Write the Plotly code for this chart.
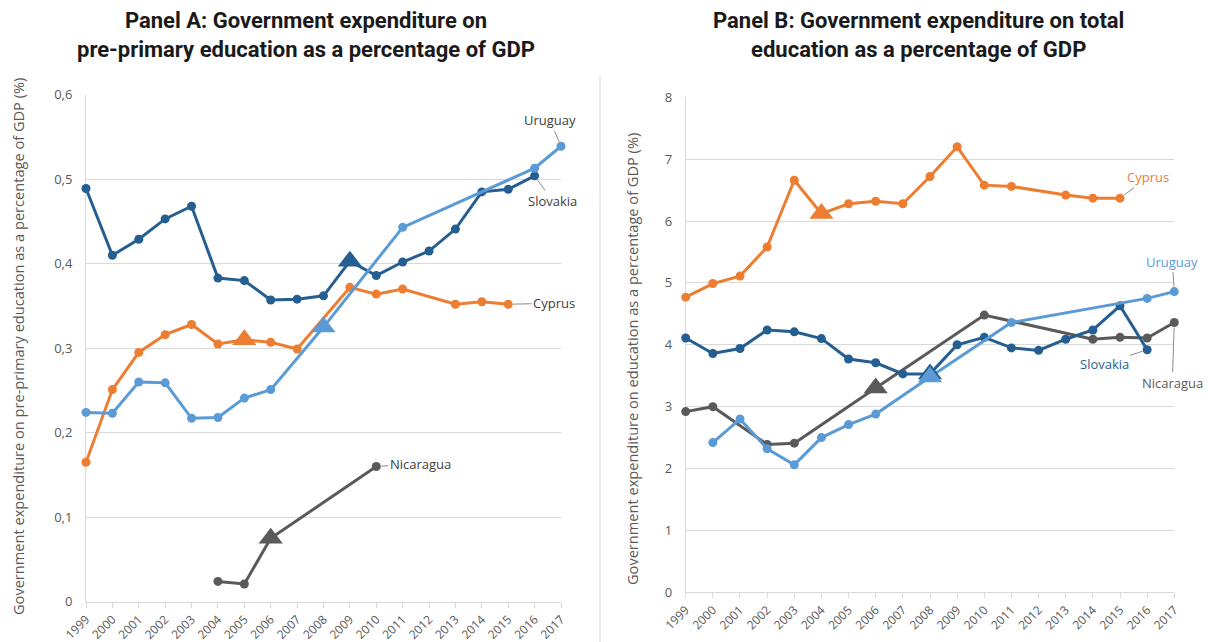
import plotly.graph_objects as go

years = list(range(1999, 2018))
year_labels = [str(y) for y in years]

# Panel A: pre-primary expenditure (% of GDP)
a_slovakia = [0.489, 0.410, 0.429, 0.453, 0.468, 0.383, 0.380, 0.357, 0.358, 0.362,
              0.403, 0.386, 0.402, 0.415, 0.441, 0.485, 0.488, 0.504, None]
a_uruguay = [0.224, 0.223, 0.260, 0.259, 0.217, 0.218, 0.241, 0.251, None, 0.325,
             None, None, 0.443, None, None, None, None, 0.513, 0.539]
a_cyprus = [0.165, 0.251, 0.295, 0.316, 0.328, 0.305, 0.310, 0.307, 0.299, None,
            0.372, 0.364, 0.370, None, 0.352, 0.355, 0.352, None, None]
a_nicaragua = [None, None, None, None, None, 0.024, 0.021, 0.075, None, None,
               None, 0.160, None, None, None, None, None, None, None]

# Panel B: total education expenditure (% of GDP)
b_cyprus = [4.77, 4.99, 5.11, 5.58, 6.66, 6.12, 6.28, 6.32, 6.28, 6.72,
            7.20, 6.58, 6.56, None, 6.42, 6.37, 6.37, None, None]
b_slovakia = [4.11, 3.86, 3.94, 4.24, 4.21, 4.10, 3.77, 3.71, 3.53, 3.53,
              4.00, 4.12, 3.95, 3.91, 4.09, 4.24, 4.63, 3.92, None]
b_uruguay = [None, 2.42, 2.80, 2.32, 2.06, 2.50, 2.71, 2.88, None, 3.48,
             None, None, 4.36, None, None, None, None, 4.75, 4.86]
b_nicaragua = [2.92, 3.00, None, 2.39, 2.41, None, None, 3.30, None, None,
               None, 4.48, None, None, None, 4.09, 4.12, 4.11, 4.36]

# Policy years highlighted with a triangle
event_a = {"Cyprus": 2005, "Nicaragua": 2006, "Uruguay": 2008, "Slovakia": 2009}
event_b = {"Cyprus": 2004, "Nicaragua": 2006, "Slovakia": 2008, "Uruguay": 2008}

a_ticks = [0, 0.1, 0.2, 0.3, 0.4, 0.5, 0.6]
a_ticktext = ["0", "0,1", "0,2", "0,3", "0,4", "0,5", "0,6"]
b_ticks = [0, 1, 2, 3, 4, 5, 6, 7, 8]

colors = {
    "Slovakia": "#255e91",
    "Uruguay": "#5b9bd5",
    "Cyprus": "#ed7d31",
    "Nicaragua": "#5a5a5a",
}

panel_a = {"Nicaragua": a_nicaragua, "Cyprus": a_cyprus,
           "Slovakia": a_slovakia, "Uruguay": a_uruguay}
panel_b = {"Nicaragua": b_nicaragua, "Cyprus": b_cyprus,
           "Slovakia": b_slovakia, "Uruguay": b_uruguay}

FONT = "Open Sans, Noto Sans, sans-serif"
GRID = "#d9d9d9"
TXT = "#595959"
W, H = 1208, 642

fig = go.Figure()


def add_panel(series, events, xa, ya):
    for name, vals in series.items():
        fig.add_trace(go.Scatter(
            x=years, y=vals, mode="lines+markers", name=name,
            xaxis=xa, yaxis=ya, connectgaps=True, cliponaxis=False,
            line=dict(color=colors[name], width=3),
            marker=dict(symbol="circle", size=9, color=colors[name]),
            showlegend=False, hoverinfo="x+y+name"))
    for name in series:
        yr = events[name]
        val = series[name][years.index(yr)]
        fig.add_trace(go.Scatter(
            x=[yr], y=[val], mode="markers", xaxis=xa, yaxis=ya,
            cliponaxis=False, showlegend=False, hoverinfo="skip",
            marker=dict(symbol="triangle-up", size=21, color=colors[name])))


add_panel(panel_a, event_a, "x", "y")
add_panel(panel_b, event_b, "x2", "y2")

xcommon = dict(
    range=[1999, 2017], tickmode="array", tickvals=years, ticktext=year_labels,
    tickangle=-45, showgrid=False, showline=True, linecolor=GRID, linewidth=1,
    ticks="outside", ticklen=5, tickcolor=GRID, zeroline=False, automargin=False,
    tickfont=dict(family=FONT, size=12, color=TXT), layer="below traces",
)
ycommon = dict(
    showgrid=True, gridcolor=GRID, gridwidth=1, showline=True, linecolor=GRID,
    linewidth=1, zeroline=False, ticks="", ticklabelstandoff=10, automargin=False,
    tickfont=dict(family=FONT, size=13, color=TXT), layer="below traces",
)

fig.update_layout(
    width=W, height=H,
    margin=dict(l=0, r=0, t=0, b=0, autoexpand=False),
    paper_bgcolor="white", plot_bgcolor="white",
    xaxis=dict(domain=[86 / W, 561 / W], anchor="y", **xcommon),
    yaxis=dict(domain=[1 - 601.7 / H, 1 - 94.7 / H], anchor="x", range=[0, 0.6],
               tickmode="array", tickvals=a_ticks, ticktext=a_ticktext, **ycommon),
    xaxis2=dict(domain=[685.7 / W, 1174.3 / W], anchor="y2", **xcommon),
    yaxis2=dict(domain=[1 - 592.3 / H, 1 - 97.3 / H], anchor="x2", range=[0, 8],
                tickmode="array", tickvals=b_ticks, **ycommon),
)

TITLE_FONT = dict(family="Liberation Sans Narrow, Roboto, Arial, sans-serif",
                  size=22, color="#1a1a1a")
annotations = [
    dict(text="<b>Panel A: Government expenditure on<br>pre-primary education as a percentage of GDP</b>",
         xref="paper", yref="paper", x=306 / W, y=1 - 35 / H,
         xanchor="center", yanchor="middle",
         showarrow=False, font=TITLE_FONT, align="center"),
    dict(text="<b>Panel B: Government expenditure on total<br>education as a percentage of GDP</b>",
         xref="paper", yref="paper", x=918 / W, y=1 - 35 / H,
         xanchor="center", yanchor="middle",
         showarrow=False, font=TITLE_FONT, align="center"),
    dict(text="Government expenditure on pre-primary education as a percentage of GDP (%)",
         xref="paper", yref="paper", x=18 / W, y=1 - 347 / H, textangle=-90,
         xanchor="center", yanchor="middle",
         showarrow=False, font=dict(family=FONT, size=14.6, color=TXT)),
    dict(text="Government expenditure on education as a percentage of GDP (%)",
         xref="paper", yref="paper", x=632 / W, y=1 - 359 / H, textangle=-90,
         xanchor="center", yanchor="middle",
         showarrow=False, font=dict(family=FONT, size=14.6, color=TXT)),
]


def label(text, xa, ya, yr, series, ax, ay, color):
    return dict(text=text, xref=xa, yref=ya, x=yr, y=series[years.index(yr)],
                ax=ax, ay=ay, showarrow=True, arrowhead=0, arrowwidth=1,
                arrowcolor="#8c8c8c", standoff=5,
                font=dict(family=FONT, size=13, color=color))


annotations += [
    label("Uruguay", "x", "y", 2017, a_uruguay, -11, -26, "#404040"),
    label("Slovakia", "x", "y", 2016, a_slovakia, 18, 25, "#404040"),
    label("Cyprus", "x", "y", 2015, a_cyprus, 46, -1, "#404040"),
    label("Nicaragua", "x", "y", 2010, a_nicaragua, 44, -3, "#404040"),
    label("Cyprus", "x2", "y2", 2015, b_cyprus, 28, -21, colors["Cyprus"]),
    label("Uruguay", "x2", "y2", 2017, b_uruguay, -2, -30, colors["Uruguay"]),
    label("Slovakia", "x2", "y2", 2016, b_slovakia, -43, 14, colors["Slovakia"]),
    label("Nicaragua", "x2", "y2", 2017, b_nicaragua, -2, 60, colors["Nicaragua"]),
]
fig.update_layout(annotations=annotations)

# Divider between the two panels
fig.add_shape(type="line", xref="paper", yref="paper",
              x0=600 / W, x1=600 / W, y0=0, y1=1 - 75 / H,
              line=dict(color=GRID, width=1))

fig.write_html("out.html")
